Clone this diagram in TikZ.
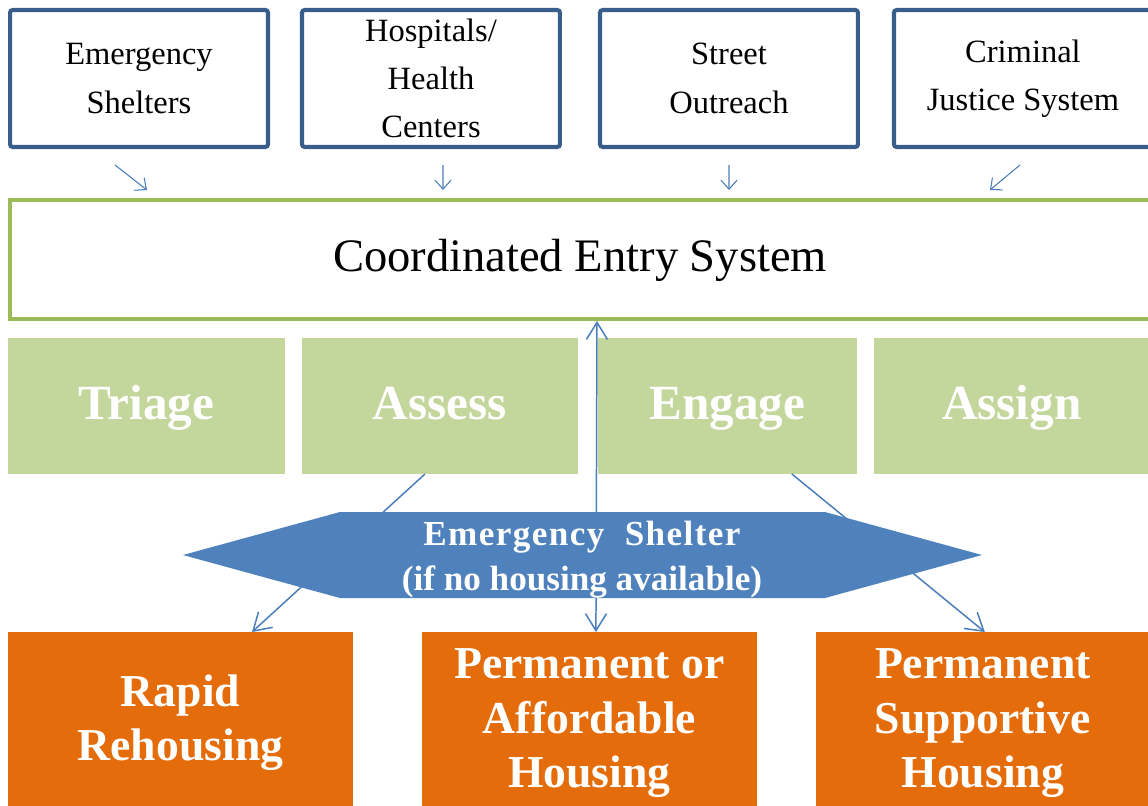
\documentclass[tikz,border=0pt]{standalone}
\usepackage{fontspec}
\setmainfont{Liberation Serif}
\usetikzlibrary{arrows.meta,positioning}
\definecolor{srcblue}{HTML}{385D8A}
\definecolor{cesgreen}{HTML}{9BBB59}
\definecolor{phasegreen}{HTML}{C3D69B}
\definecolor{shelterblue}{HTML}{4F81BD}
\definecolor{linkblue}{HTML}{4A7EBB}
\definecolor{housingorange}{HTML}{E46C0A}

\begin{document}
\begin{tikzpicture}[x=0.02cm, y=-0.02cm, thick,
  >={Straight Barb[length=0.34cm,width=0.42cm]},
  source/.style={draw=srcblue, line width=2.3pt, rounded corners=1.5pt, minimum width=5.16cm, minimum height=2.74cm, align=center, inner sep=0pt, font=\fontsize{18.5}{27.5}\selectfont},
  phase/.style={fill=phasegreen, outer sep=0pt, minimum height=2.72cm, inner sep=0pt, text height=21pt, text depth=6.2pt, text=white, font=\fontsize{28}{32}\selectfont\bfseries},
  housing/.style={fill=housingorange, outer sep=0pt, minimum height=3.48cm, align=center, text=white, font=\fontsize{26}{31}\selectfont\bfseries},
  link/.style={draw=linkblue, line width=0.85pt, ->},
  feed/.style={draw=linkblue, line width=0.6pt, -{Straight Barb[length=0.18cm,width=0.32cm]}}]

  \useasboundingbox (0,0) rectangle (1148,805);
  \clip (0,0) rectangle (1148,805);

  % where people come from
  \node (esh)  [source] at (139,78.5) {Emergency\\Shelters};
  \node (hosp) [source, right=0.6cm of esh]   {Hospitals/\\Health\\Centers};
  \node (outr) [source, right=0.72cm of hosp] {Street\\Outreach};
  \node (cjs)  [source, right=0.64cm of outr] {Criminal\\Justice System};

  \node (ces) [draw=cesgreen, line width=2.3pt, minimum width=22.8cm, minimum height=2.38cm, text height=19pt, text depth=5.3pt, font=\fontsize{26.5}{30}\selectfont] at (580,259.5) {Coordinated Entry System};

  % the four steps
  \node (triage) [phase, minimum width=5.54cm] at (146.5,406) {Triage};
  \node (assess) [phase, minimum width=5.52cm, right=0.34cm of triage] {Assess};
  \node (engage) [phase, minimum width=5.18cm, right=0.4cm of assess]  {Engage};
  \node (assign) [phase, minimum width=5.52cm, right=0.34cm of engage] {Assign};

  % housing options
  \node (rapid)   [housing, minimum width=6.9cm] at (180.5,719) {\rule{0pt}{22pt}Rapid\\Rehousing};
  \node (afford)  [housing, minimum width=6.7cm, right=1.38cm of rapid]   {\rule{0pt}{22pt}Permanent or\\Affordable\\Housing};
  \node (support) [housing, minimum width=6.68cm, right=1.18cm of afford] {\rule{0pt}{22pt}Permanent\\Supportive\\Housing};

  \draw[feed] ([shift={(-24,16)}]esh.south)  -- ([shift={(-433,-8)}]ces.north);
  \draw[feed] ([shift={(12,16)}]hosp.south)  -- ([shift={(-137,-8)}]ces.north);
  \draw[feed] ([shift={(0,16)}]outr.south)   -- ([shift={(149,-8)}]ces.north);
  \draw[feed] ([shift={(-3,16)}]cjs.south)   -- ([shift={(410,-8)}]ces.north);

  \draw[link] ([shift={(-15,0)}]assess.south) -- ([shift={(71.5,0)}]rapid.north);
  \draw[link] ([shift={(64.5,0)}]engage.south) -- ([shift={(2,0)}]support.north);
  \draw[link, <->] ([shift={(17,0)}]ces.south) -- ([shift={(6.5,0)}]afford.north);

  % fallback shelter
  \fill[shelterblue] (183,555) -- (340,512) -- (825,512) -- (982,555) -- (825,598) -- (340,598) -- cycle;
  \node (shelter) at (582,559.5) [text=white, align=center, font=\fontsize{20}{25.5}\selectfont\bfseries] {{\addfontfeature{LetterSpace=4}Emergency~~Shelter}\\(if no housing available)};
\end{tikzpicture}
\end{document}
